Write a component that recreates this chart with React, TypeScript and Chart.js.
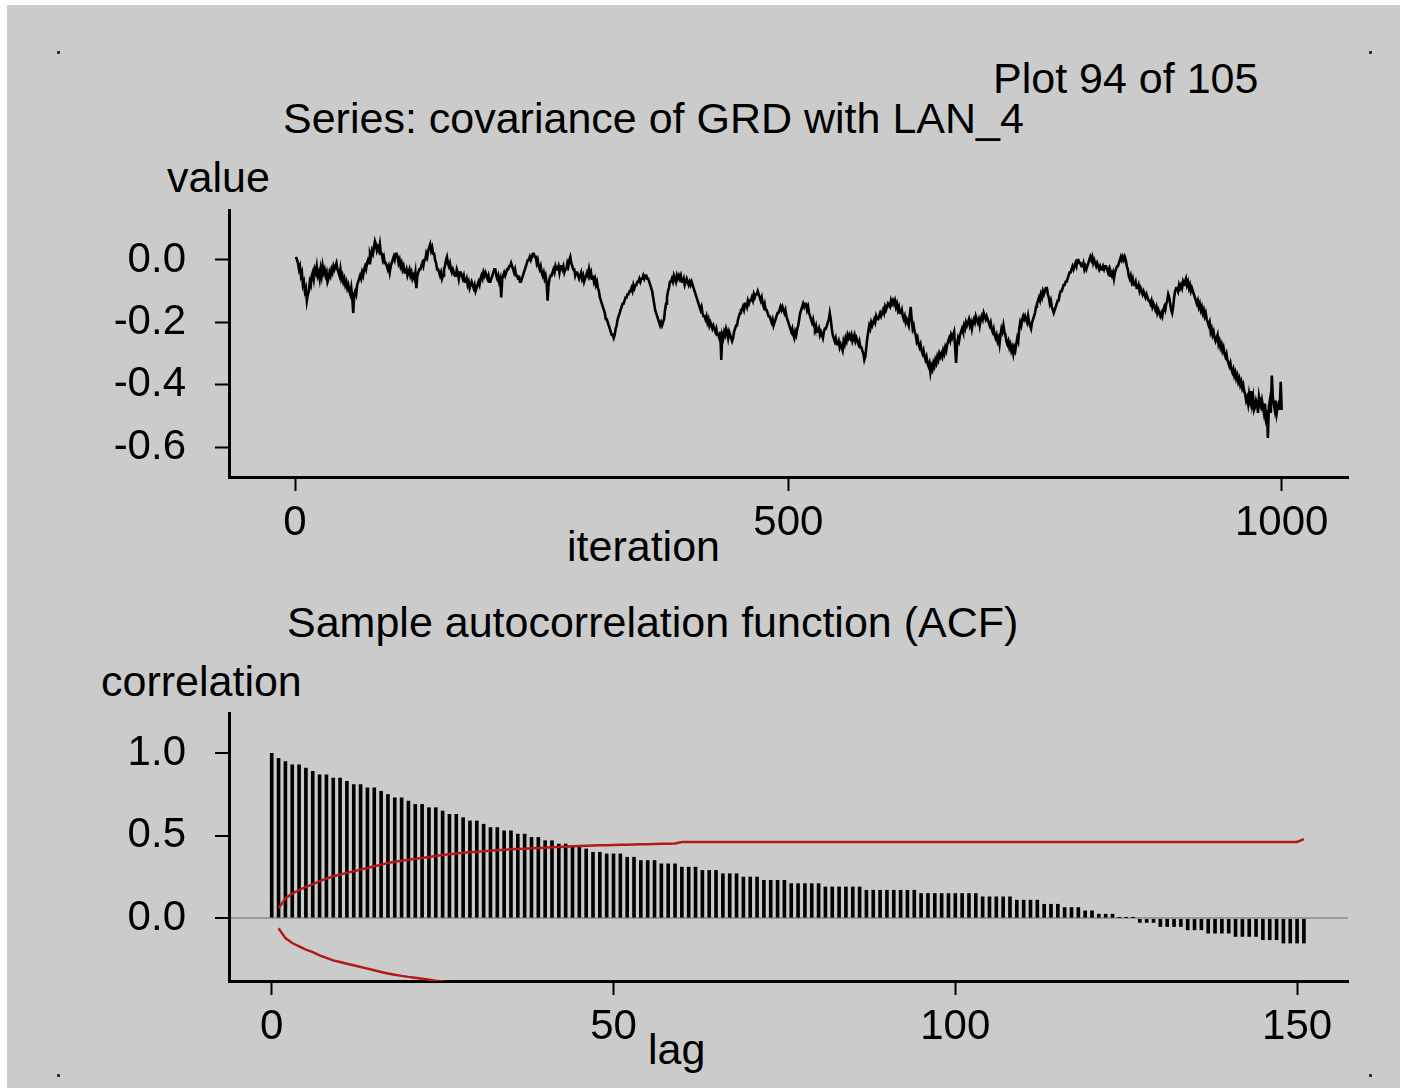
import React, { useEffect, useRef } from 'react';
import { Chart, registerables } from 'chart.js';

Chart.register(...registerables);

// ---- DATA ----
// MCMC trace: iterations 1..1000
const traceValues: number[] = [
  .01,.00,-.01,-.03,-.02,-.05,-.04,-.08,-.07,-.10,-.09,-.13,-.11,-.10,-.07,-.08,-.05,-.04,-.06,-.03,
  -.04,-.02,-.05,-.04,-.06,-.03,-.05,-.02,-.04,-.03,-.05,-.04,-.07,-.06,-.04,-.05,-.03,-.04,-.02,-.03,
  -.02,-.01,-.03,-.04,-.05,-.03,-.06,-.05,-.07,-.06,-.08,-.07,-.09,-.08,-.10,-.11,-.09,-.12,-.17,-.11,
  -.10,-.11,-.08,-.07,-.06,-.05,-.06,-.04,-.05,-.03,-.02,-.03,-.01,.00,-.01,.02,.01,.03,.02,.04,
  .06,.05,.03,.04,.03,.05,.02,.02,.00,.01,-.01,-.01,-.02,-.03,-.02,-.04,-.02,-.01,.00,.01,
  .00,.02,.02,.01,-.01,.00,-.02,-.01,-.03,-.02,-.04,-.04,-.03,-.05,-.04,-.03,-.05,-.04,-.06,-.05,
  -.06,-.04,-.09,-.05,-.04,-.03,-.03,-.02,-.01,-.02,.00,.00,.02,.01,.03,.04,.05,.03,.04,.02,
  .02,.00,-.01,-.03,-.03,-.04,-.05,-.04,-.06,-.05,-.03,-.02,.00,.01,-.01,-.02,-.01,-.03,-.04,-.03,
  -.04,-.05,-.05,-.03,-.04,-.06,-.04,-.04,-.05,-.06,-.05,-.07,-.07,-.06,-.08,-.07,-.09,-.08,-.07,-.08,
  -.09,-.08,-.10,-.09,-.08,-.07,-.08,-.06,-.05,-.06,-.04,-.05,-.04,-.05,-.06,-.05,-.07,-.07,-.06,-.05,
  -.04,-.03,-.03,-.05,-.06,-.05,-.07,-.06,-.12,-.06,-.05,-.04,-.05,-.04,-.03,-.03,-.02,-.02,-.01,-.02,
  -.03,-.04,-.03,-.05,-.05,-.06,-.05,-.07,-.07,-.06,-.05,-.04,-.03,-.02,-.01,.00,.00,.01,.00,.01,
  .02,.02,.01,.01,-.01,.00,-.02,-.03,-.02,-.04,-.05,-.04,-.06,-.05,-.07,-.13,-.08,-.06,-.05,-.05,
  -.04,-.03,-.04,-.02,-.03,-.03,-.02,-.04,-.02,-.02,-.03,-.02,-.04,-.03,-.03,-.01,-.02,.00,.01,-.01,
  -.02,-.03,-.03,-.05,-.04,-.04,-.05,-.06,-.05,-.04,-.06,-.05,-.07,-.06,-.05,-.04,-.05,-.03,-.05,-.04,
  -.06,-.05,-.07,-.06,-.08,-.07,-.09,-.10,-.12,-.13,-.14,-.15,-.16,-.17,-.19,-.19,-.20,-.21,-.22,-.23,
  -.24,-.24,-.25,-.24,-.22,-.21,-.19,-.18,-.17,-.16,-.15,-.14,-.14,-.13,-.12,-.12,-.11,-.11,-.10,-.10,
  -.09,-.10,-.08,-.09,-.08,-.08,-.07,-.07,-.06,-.07,-.06,-.06,-.05,-.06,-.05,-.05,-.06,-.06,-.07,-.08,
  -.09,-.10,-.12,-.14,-.16,-.17,-.18,-.19,-.20,-.21,-.20,-.21,-.20,-.19,-.16,-.14,-.12,-.10,-.09,-.07,
  -.07,-.06,-.07,-.05,-.06,-.07,-.05,-.06,-.05,-.06,-.05,-.07,-.07,-.06,-.08,-.07,-.06,-.07,-.08,-.07,
  -.08,-.07,-.08,-.09,-.10,-.11,-.12,-.13,-.14,-.15,-.16,-.15,-.17,-.18,-.18,-.19,-.18,-.20,-.19,-.21,
  -.20,-.21,-.22,-.21,-.22,-.23,-.22,-.24,-.24,-.25,-.23,-.32,-.24,-.25,-.23,-.24,-.22,-.23,-.25,-.23,
  -.24,-.25,-.26,-.25,-.23,-.22,-.21,-.21,-.19,-.18,-.17,-.16,-.16,-.15,-.16,-.14,-.14,-.15,-.13,-.14,
  -.13,-.13,-.12,-.13,-.11,-.12,-.11,-.11,-.10,-.11,-.12,-.13,-.12,-.14,-.15,-.14,-.16,-.16,-.17,-.18,
  -.18,-.19,-.20,-.19,-.21,-.20,-.19,-.18,-.17,-.17,-.16,-.15,-.16,-.15,-.16,-.17,-.16,-.18,-.19,-.20,
  -.21,-.22,-.23,-.22,-.24,-.25,-.23,-.24,-.22,-.21,-.19,-.17,-.16,-.15,-.14,-.15,-.14,-.14,-.16,-.15,
  -.17,-.18,-.19,-.20,-.19,-.21,-.22,-.21,-.23,-.23,-.22,-.24,-.23,-.24,-.25,-.23,-.22,-.22,-.21,-.20,
  -.19,-.17,-.19,-.22,-.24,-.25,-.26,-.25,-.27,-.27,-.26,-.28,-.27,-.28,-.29,-.26,-.27,-.25,-.26,-.24,
  -.25,-.24,-.25,-.24,-.26,-.25,-.24,-.26,-.25,-.26,-.27,-.26,-.28,-.28,-.29,-.30,-.32,-.31,-.28,-.25,
  -.23,-.21,-.22,-.20,-.21,-.20,-.19,-.20,-.18,-.19,-.19,-.18,-.17,-.18,-.17,-.16,-.17,-.15,-.16,-.15,
  -.14,-.14,-.15,-.13,-.14,-.13,-.14,-.13,-.15,-.14,-.16,-.15,-.17,-.17,-.16,-.18,-.19,-.18,-.20,-.19,
  -.20,-.21,-.18,-.15,-.19,-.22,-.21,-.23,-.24,-.26,-.25,-.27,-.28,-.27,-.29,-.30,-.29,-.31,-.32,-.31,
  -.33,-.34,-.33,-.36,-.34,-.35,-.33,-.34,-.32,-.33,-.31,-.32,-.30,-.31,-.30,-.31,-.29,-.30,-.28,-.29,
  -.27,-.26,-.25,-.26,-.24,-.25,-.24,-.23,-.28,-.33,-.27,-.25,-.26,-.24,-.23,-.22,-.23,-.21,-.22,-.20,
  -.21,-.20,-.19,-.21,-.20,-.22,-.20,-.19,-.20,-.18,-.19,-.20,-.19,-.21,-.19,-.18,-.19,-.17,-.18,-.19,
  -.18,-.19,-.20,-.21,-.20,-.22,-.23,-.22,-.24,-.25,-.24,-.26,-.25,-.27,-.24,-.22,-.23,-.21,-.23,-.24,
  -.26,-.27,-.26,-.28,-.27,-.29,-.28,-.30,-.28,-.29,-.27,-.25,-.26,-.22,-.20,-.21,-.19,-.18,-.19,-.18,
  -.19,-.20,-.18,-.20,-.21,-.22,-.20,-.19,-.18,-.17,-.15,-.14,-.13,-.12,-.13,-.11,-.12,-.10,-.11,-.10,
  -.09,-.09,-.11,-.12,-.14,-.13,-.15,-.16,-.17,-.16,-.15,-.14,-.13,-.13,-.11,-.10,-.10,-.09,-.08,-.08,
  -.07,-.07,-.06,-.05,-.04,-.04,-.03,-.02,-.03,-.02,-.01,-.02,.00,.00,-.01,-.01,-.02,-.02,-.01,-.03,
  -.02,-.03,-.02,-.01,.00,.01,.00,.01,-.01,.00,-.01,-.02,-.01,-.02,-.03,-.02,-.03,-.03,-.02,-.03,
  -.02,-.02,-.03,-.04,-.03,-.05,-.04,-.05,-.04,-.06,-.04,-.03,-.02,-.02,-.01,.00,.01,.00,.01,.00,
  .01,.00,-.02,-.03,-.05,-.06,-.05,-.07,-.06,-.08,-.08,-.07,-.09,-.09,-.08,-.10,-.09,-.10,-.11,-.10,
  -.11,-.12,-.11,-.12,-.13,-.13,-.14,-.13,-.15,-.14,-.15,-.16,-.15,-.17,-.16,-.17,-.18,-.17,-.18,-.16,
  -.15,-.16,-.14,-.13,-.11,-.12,-.14,-.16,-.17,-.15,-.12,-.10,-.09,-.09,-.10,-.08,-.09,-.08,-.09,-.07,
  -.08,-.07,-.06,-.08,-.07,-.09,-.08,-.10,-.09,-.10,-.11,-.12,-.13,-.14,-.13,-.15,-.14,-.16,-.15,-.17,
  -.16,-.18,-.17,-.19,-.20,-.21,-.20,-.23,-.22,-.24,-.23,-.25,-.26,-.25,-.24,-.27,-.26,-.28,-.27,-.29,
  -.28,-.30,-.31,-.30,-.32,-.33,-.34,-.33,-.35,-.36,-.35,-.37,-.36,-.38,-.37,-.39,-.38,-.40,-.39,-.41,
  -.40,-.42,-.43,-.45,-.44,-.46,-.43,-.45,-.42,-.46,-.44,-.48,-.47,-.45,-.46,-.49,-.44,-.46,-.47,-.45,
  -.47,-.49,-.46,-.50,-.48,-.57,-.47,-.45,-.49,-.37,-.44,-.46,-.48,-.45,-.49,-.47,-.46,-.48,-.39,-.48,
];
const traceXTicks = [0, 500, 1000];
const traceYTicks = [0, -0.2, -0.4, -0.6];

// Sample ACF: lags 0..151
const acfValues: number[] = [
  1.00, .97, .95, .93, .93, .91, .89, .87, .87, .85,
  .85, .83, .81, .81, .79, .79, .77, .75, .73, .73,
  .71, .69, .69, .67, .67, .65, .63, .63, .61, .59,
  .59, .57, .55, .55, .53, .53, .51, .51, .49, .49,
  .47, .47, .45, .45, .44, .43, .42, .40, .40, .39,
  .39, .39, .37, .37, .35, .35, .35, .33, .33, .33,
  .31, .31, .31, .29, .29, .29, .27, .27, .27, .25,
  .25, .25, .23, .23, .23, .23, .21, .21, .21, .21,
  .21, .19, .19, .19, .19, .19, .19, .17, .17, .17,
  .17, .17, .17, .17, .17, .15, .15, .15, .15, .15,
  .15, .15, .15, .15, .13, .13, .13, .13, .13, .11,
  .11, .11, .11, .085, .085, .085, .065, .065, .065, .045,
  .045, .025, .025, .025, .004, .004, .004, -.025, -.025, -.025,
  -.05, -.05, -.05, -.05, -.07, -.07, -.07, -.09, -.09, -.09,
  -.09, -.11, -.11, -.11, -.11, -.13, -.13, -.13, -.15, -.15,
  -.15, -.15,
];
// Upper confidence band for lags 1..151 (lower band is its mirror)
const acfBand: number[] = [
  .06, .12, .15, .17, .19, .205, .225, .24, .255, .265,
  .275, .285, .295, .305, .315, .325, .335, .342, .349, .355,
  .36, .366, .372, .378, .383, .388, .393, .397, .40, .403,
  .406, .409, .412, .415, .418, .42, .422, .424, .426, .428,
  .43, .432, .434, .436, .438, .44, .441, .442, .443, .444,
  .445, .446, .447, .448, .449, .45, .451, .452, .453, .462,
  .463, .463, .463, .463, .463, .463, .463, .463, .463, .463,
  .463, .463, .463, .463, .463, .463, .463, .463, .463, .463,
  .463, .463, .463, .463, .463, .463, .463, .463, .463, .463,
  .463, .463, .463, .463, .463, .463, .463, .463, .463, .463,
  .463, .463, .463, .463, .463, .463, .463, .463, .463, .463,
  .463, .463, .463, .463, .463, .463, .463, .463, .463, .463,
  .463, .463, .463, .463, .463, .463, .463, .463, .463, .463,
  .463, .463, .463, .463, .463, .463, .463, .463, .463, .463,
  .463, .463, .463, .463, .463, .463, .463, .463, .463, .463,
  .48,
];
const acfXTicks = [0, 50, 100, 150];
const acfYTicks = [1.0, 0.5, 0.0];

const FONT = "'Liberation Sans', Arial, sans-serif";
const W = 1402;
const H = 1091;
const RED = '#b3191b';

function axisCommon() {
  return {
    grid: { drawOnChartArea: false, drawTicks: true, tickLength: 14, tickColor: '#000', tickWidth: 2 },
    border: { display: true, color: '#000', width: 3 },
  };
}

const labels: { text: string; left: number; baseline: number }[] = [
  { text: 'Plot 94 of 105', left: 993, baseline: 93 },
  { text: 'Series: covariance of GRD with LAN_4', left: 283, baseline: 133 },
  { text: 'value', left: 167, baseline: 192 },
  { text: 'iteration', left: 567, baseline: 561 },
  { text: 'Sample autocorrelation function (ACF)', left: 287, baseline: 637 },
  { text: 'correlation', left: 101, baseline: 696 },
  { text: 'lag', left: 648, baseline: 1064 },
];

export default function App() {
  const topRef = useRef<HTMLCanvasElement | null>(null);
  const botRef = useRef<HTMLCanvasElement | null>(null);

  useEffect(() => {
    const c1 = new Chart(topRef.current as HTMLCanvasElement, {
      type: 'line',
      data: {
        datasets: [
          {
            data: traceValues.map((v, i) => ({ x: i + 1, y: v })),
            borderColor: '#000',
            borderWidth: 2.6,
            pointRadius: 0,
            tension: 0,
            fill: false,
            clip: 0,
          } as any,
        ],
      },
      options: {
        animation: false,
        responsive: false,
        events: [],
        layout: { padding: { left: 0, top: 210, right: W - 1348, bottom: 0 } },
        plugins: { legend: { display: false }, tooltip: { enabled: false } },
        scales: {
          x: {
            type: 'linear',
            min: -66.9,
            max: 1067.2,
            afterFit: (s: any) => { s.height = H - 477; },
            afterBuildTicks: (s: any) => { s.ticks = traceXTicks.map((v) => ({ value: v })); },
            ...axisCommon(),
            ticks: {
              color: '#000', font: { family: FONT, size: 42 }, padding: 7,
              maxRotation: 0, autoSkip: false, callback: (v: any) => String(v),
            },
          },
          y: {
            type: 'linear',
            min: -0.695,
            max: 0.160,
            afterFit: (s: any) => { s.width = 229; },
            afterBuildTicks: (s: any) => { s.ticks = traceYTicks.map((v) => ({ value: v })); },
            ...axisCommon(),
            ticks: {
              color: '#000', font: { family: FONT, size: 42 }, padding: 29,
              autoSkip: false, callback: (v: any) => Number(v).toFixed(1),
            },
          },
        },
      } as any,
    });

    const c2 = new Chart(botRef.current as HTMLCanvasElement, {
      type: 'bar',
      data: {
        datasets: [
          {
            type: 'line',
            data: acfBand.map((v, i) => ({ x: i + 1, y: v })),
            borderColor: RED,
            borderWidth: 2.5,
            pointRadius: 0,
            tension: 0,
            fill: false,
            clip: 0,
          } as any,
          {
            type: 'line',
            data: acfBand.map((v, i) => ({ x: i + 1, y: -v })),
            borderColor: RED,
            borderWidth: 2.5,
            pointRadius: 0,
            tension: 0,
            fill: false,
            clip: 0,
          } as any,
          {
            type: 'bar',
            data: acfValues.map((v, i) => ({ x: i, y: v })),
            backgroundColor: '#000',
            borderWidth: 0,
            barThickness: 3,
          } as any,
        ],
      },
      options: {
        animation: false,
        responsive: false,
        events: [],
        layout: { padding: { left: 0, top: 713, right: W - 1348, bottom: 0 } },
        plugins: { legend: { display: false }, tooltip: { enabled: false } },
        scales: {
          x: {
            type: 'linear',
            offset: false,
            min: -6.25,
            max: 157.45,
            afterFit: (s: any) => { s.height = H - 981; },
            afterBuildTicks: (s: any) => { s.ticks = acfXTicks.map((v) => ({ value: v })); },
            grid: { offset: false, drawOnChartArea: false, drawTicks: true, tickLength: 14, tickColor: '#000', tickWidth: 2 },
            border: { display: true, color: '#000', width: 3 },
            ticks: {
              color: '#000', font: { family: FONT, size: 42 }, padding: 7,
              maxRotation: 0, autoSkip: false, callback: (v: any) => String(v),
            },
          },
          y: {
            type: 'linear',
            min: -0.38,
            max: 1.244,
            afterFit: (s: any) => { s.width = 229; },
            afterBuildTicks: (s: any) => { s.ticks = acfYTicks.map((v) => ({ value: v })); },
            grid: {
              drawOnChartArea: true,
              drawTicks: true,
              tickLength: 14,
              tickColor: '#000',
              tickWidth: 2,
              lineWidth: 2,
              color: (ctx: any) => (ctx.tick && ctx.tick.value === 0 ? '#9a9a9a' : 'rgba(0,0,0,0)'),
            },
            border: { display: true, color: '#000', width: 3 },
            ticks: {
              color: '#000', font: { family: FONT, size: 42 }, padding: 29,
              autoSkip: false, callback: (v: any) => Number(v).toFixed(1),
            },
          },
        },
      } as any,
    });

    return () => {
      c1.destroy();
      c2.destroy();
    };
  }, []);

  const dot = (x: number, y: number) => (
    <div key={`${x}-${y}`} style={{ position: 'absolute', left: x - 1.5, top: y - 1.5, width: 3, height: 3, background: '#222', borderRadius: 1 }} />
  );

  return (
    <div style={{ position: 'absolute', left: 0, top: 0, width: W, height: H, background: '#fff', overflow: 'hidden' }}>
      <div style={{ position: 'absolute', left: 7, top: 5, width: 1393, height: 1083, background: '#cbcbcb' }} />
      {dot(58, 52)}
      {dot(1370, 52)}
      {dot(58, 1075)}
      {dot(1370, 1075)}
      {labels.map((l) => (
        <div
          key={l.text}
          style={{
            position: 'absolute', left: l.left, top: l.baseline - 36.4, fontFamily: FONT, fontSize: 43,
            lineHeight: '43px', color: '#000', whiteSpace: 'pre',
          }}
        >
          {l.text}
        </div>
      ))}
      <canvas ref={topRef} width={W} height={H} style={{ position: 'absolute', left: 0, top: 0, width: W, height: H }} />
      <canvas ref={botRef} width={W} height={H} style={{ position: 'absolute', left: 0, top: 0, width: W, height: H }} />
    </div>
  );
}
